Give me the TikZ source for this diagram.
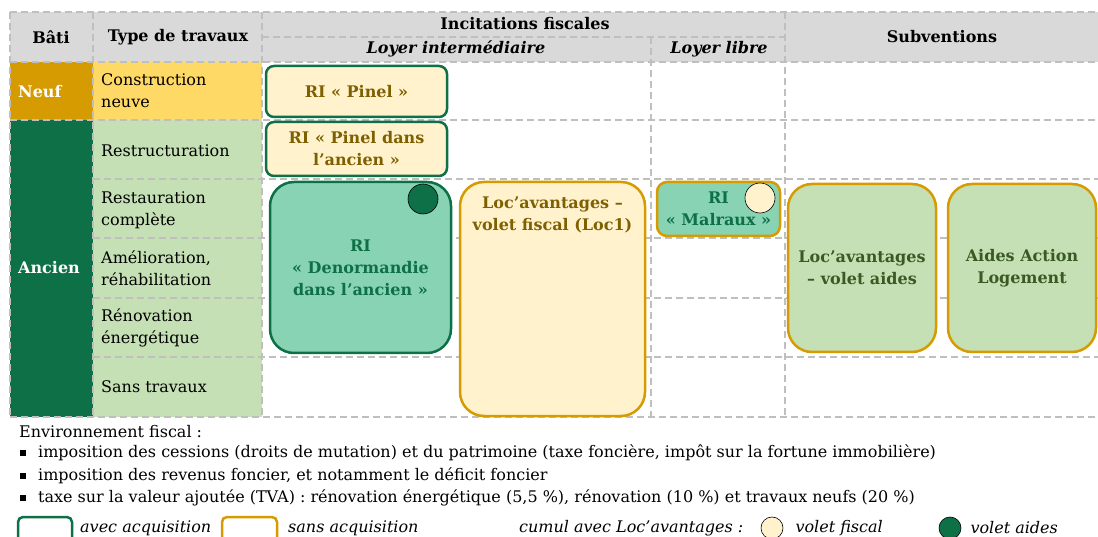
\documentclass[tikz,border=0pt]{standalone}
\usepackage{fontspec}
\setmainfont{DejaVu Serif}
\usepackage{tikz}
\usetikzlibrary{positioning}
\definecolor{vert}{HTML}{0E7047}
\definecolor{vertclair}{HTML}{C5E0B4}
\definecolor{menthe}{HTML}{88D3B4}
\definecolor{or}{HTML}{D69B00}
\definecolor{jaune}{HTML}{FFD966}
\definecolor{creme}{HTML}{FFF2CC}
\definecolor{brun}{HTML}{7F6000}
\definecolor{olive}{HTML}{3A5A24}
\definecolor{gris}{HTML}{D9D9D9}
\definecolor{grille}{HTML}{BFBFBF}

\begin{document}
\begin{tikzpicture}[x=1pt,y=-1pt,font=\fontsize{16}{22}\selectfont]
	\tikzset{grille/.style={draw=grille,dash pattern=on 7pt off 4pt,line width=1.2pt}}
	\tikzset{avec/.style={draw=vert,line width=2.5pt,rounded corners=8pt}}
	\tikzset{sans/.style={draw=or,line width=2.5pt,rounded corners=8pt}}
	\tikzset{titre/.style={font=\fontsize{16}{20}\selectfont\bfseries,align=center}}
	\tikzset{cellule/.style={anchor=west,align=left,inner sep=0pt}}
	\tikzset{etiquette/.style={font=\fontsize{16}{22}\selectfont\bfseries,align=center}}
	\tikzset{pastille/.style={circle,draw=black,line width=0.6pt,inner sep=0pt}}
	\useasboundingbox (0,0) rectangle (1098,537);
	% fonds
	\fill[gris] (10,12) rectangle (1098,62);
	\fill[or] (10,62) rectangle (93,120);
	\fill[jaune] (93,62) rectangle (262,120);
	\fill[vert] (10,120) rectangle (93,417);
	\fill[vertclair] (93,120) rectangle (262,417);
	% grille
	\draw[grille] (10,12) -- (1098,12);
	\draw[grille] (262,37) -- (785,37);
	\draw[grille] (10,62) -- (1098,62);
	\draw[grille] (10,120) -- (1098,120);
	\foreach \y in {179,238,298,357}
		\draw[grille] (93,\y) -- (1098,\y);
	\draw[grille] (10,417) -- (1098,417);
	\draw[grille] (10,12) -- (10,417);
	\draw[grille] (93,12) -- (93,417);
	\draw[grille] (262,12) -- (262,417);
	\draw[grille] (651,37) -- (651,417);
	\draw[grille] (785,12) -- (785,417);
	% en-tetes
	\node[titre] (bati) at (51,37) {Bâti};
	\node[titre] (type) at (178,37) {Type de travaux};
	\node[titre] (incit) at (525,24) {Incitations fiscales};
	\node[titre,font=\fontsize{16}{20}\selectfont\bfseries\itshape] (inter) at (456,49) {Loyer intermédiaire};
	\node[titre,font=\fontsize{16}{20}\selectfont\bfseries\itshape] (libre) at (719,49) {Loyer libre};
	\node[titre] (subv) at (942,37) {Subventions};
	% lignes
	\node[cellule,text=white,font=\fontsize{16}{22}\selectfont\bfseries] (neuf) at (18,92) {Neuf};
	\node[cellule,text=white,font=\fontsize{16}{22}\selectfont\bfseries] (ancien) at (18,268) {Ancien};
	\node[cellule] (constr) at (101,91) {Construction\\neuve};
	\node[cellule] (restr) at (101,151) {Restructuration};
	\node[cellule] (resta) at (101,210) {Restauration\\complète};
	\node[cellule] (amel) at (101,268) {Amélioration,\\réhabilitation};
	\node[cellule] (renov) at (101,328) {Rénovation\\énergétique};
	\node[cellule] (sans) at (101,387) {Sans travaux};
	% dispositifs
	\node[avec,fill=creme,minimum width=181pt,minimum height=51pt,etiquette,text=brun] (pinel) at (356.5,91.5) {RI « Pinel »};
	\node[avec,fill=creme,minimum width=181pt,minimum height=54pt,etiquette,text=brun] (pinelA) at (356.5,149) {RI « Pinel dans\\l’ancien »};
	\node[avec,fill=menthe,rounded corners=24pt,minimum width=181pt,minimum height=171pt,etiquette,text=vert] (denorm) at (360.5,267.5) {RI\\« Denormandie\\dans l’ancien »};
	\node[sans,fill=creme,rounded corners=24pt,minimum width=185pt,minimum height=234pt] (loc1) at (552.5,299) {};
	\node[etiquette,text=brun,anchor=north] (loc1t) at ([yshift=-13pt]loc1.north) {Loc’avantages –\\volet fiscal (Loc1)};
	\node[sans,fill=menthe,rounded corners=10pt,minimum width=123pt,minimum height=54pt,etiquette,text=vert] (malraux) at (718.5,209) {RI\\« Malraux »};
	\node[sans,fill=vertclair,rounded corners=24pt,minimum width=148pt,minimum height=168pt,etiquette,text=olive] (locA) at (862,268) {Loc’avantages\\– volet aides};
	\node[sans,fill=vertclair,rounded corners=24pt,minimum width=148pt,minimum height=168pt,etiquette,text=olive] (action) at (1022,268) {Aides Action\\Logement};
	\node[pastille,fill=vert,minimum size=30pt] (pD) at (423,199) {};
	\node[pastille,fill=creme,minimum size=30pt] (pM) at (760,198) {};
	% environnement fiscal
	\node[cellule] (env) at (19,432) {Environnement fiscal :};
	\node[cellule] (b1) at (20,453) {\rule[2pt]{6pt}{6pt}\hspace{12pt}imposition des cessions (droits de mutation) et du patrimoine (taxe foncière, impôt sur la fortune immobilière)};
	\node[cellule] (b2) at (20,476) {\rule[2pt]{6pt}{6pt}\hspace{12pt}imposition des revenus foncier, et notamment le déficit foncier};
	\node[cellule] (b3) at (20,498) {\rule[2pt]{6pt}{6pt}\hspace{12pt}taxe sur la valeur ajoutée (TVA) : rénovation énergétique (5,5 \%), rénovation (10 \%) et travaux neufs (20 \%)};
	% legende
	\draw[avec,rounded corners=5pt] (18,517) rectangle (72,550);
	\node[cellule,font=\fontsize{16}{22}\selectfont\itshape] (lavec) at (80,528) {avec acquisition};
	\draw[sans,rounded corners=5pt] (222,517) rectangle (277,550);
	\node[cellule,font=\fontsize{16}{22}\selectfont\itshape] (lsans) at (288,528) {sans acquisition};
	\node[cellule,font=\fontsize{16}{22}\selectfont\itshape] (lcumul) at (519,528) {cumul avec Loc’avantages :};
	\node[pastille,fill=creme,minimum size=22pt] (lf) at (772,528) {};
	\node[cellule,font=\fontsize{16}{22}\selectfont\itshape,right=12pt of lf] (lfisc) {volet fiscal};
	\node[pastille,fill=vert,minimum size=22pt] (la) at (950,528) {};
	\node[cellule,font=\fontsize{16}{22}\selectfont\itshape,right=9pt of la] (laides) {volet aides};
\end{tikzpicture}
\end{document}
